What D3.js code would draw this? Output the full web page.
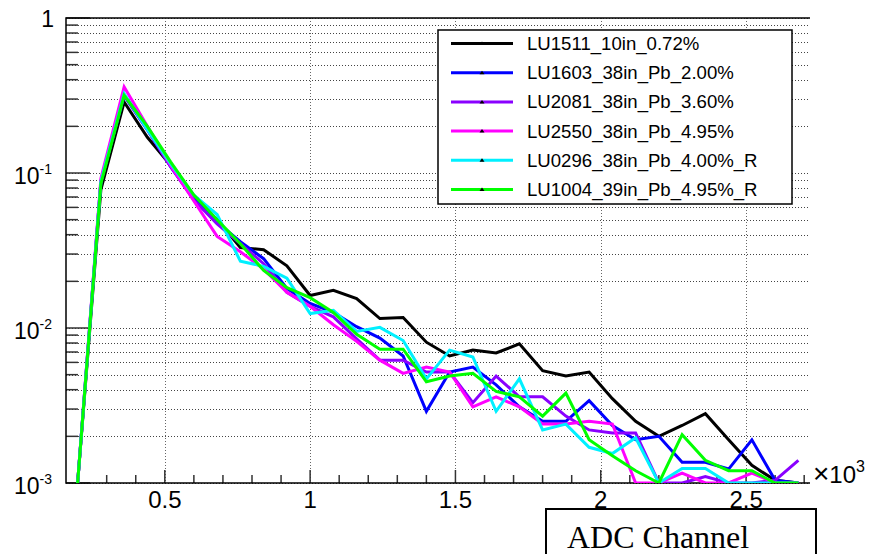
<!DOCTYPE html>
<html>
<head>
<meta charset="utf-8">
<script src="https://cdn.jsdelivr.net/npm/d3@7"></script>
<style>
  body { margin: 0; background: #fff; }
  svg { display: block; }
</style>
</head>
<body>
<div id="chart"></div>
<script>
// ADC channel (bin centres)
var channels = [200, 280, 360, 440, 520, 600, 680, 760, 840, 920, 1000, 1080, 1160, 1240, 1320, 1400,
                1480, 1560, 1640, 1720, 1800, 1880, 1960, 2040, 2120, 2200, 2280, 2360, 2440, 2520, 2600, 2680];

var seriesNames = ["LU1511_10in_0.72%", "LU1603_38in_Pb_2.00%", "LU2081_38in_Pb_3.60%",
                   "LU2550_38in_Pb_4.95%", "LU0296_38in_Pb_4.00%_R", "LU1004_39in_Pb_4.95%_R"];
var seriesColors = ["#000000", "#0000ff", "#8a00ff", "#ff00ff", "#00f0ff", "#00ff00"];

var lu1511 = [0.001, 0.078, 0.287, 0.17, 0.112, 0.068, 0.05, 0.033, 0.032, 0.0252, 0.0162, 0.0175, 0.0155, 0.0115, 0.0117, 0.0081,
              0.0066, 0.0072, 0.0069, 0.0079, 0.0053, 0.0049, 0.0052, 0.0035, 0.0025, 0.0020, 0.00235, 0.0028, 0.0019, 0.0013, 0.00104, 0.00098];
var lu1603 = [0.001, 0.088, 0.315, 0.19, 0.11, 0.068, 0.048, 0.036, 0.028, 0.018, 0.0144, 0.0126, 0.0102, 0.0086, 0.0066, 0.0029,
              0.0052, 0.0056, 0.0043, 0.0031, 0.0025, 0.0025, 0.0034, 0.00235, 0.0019, 0.0020, 0.00136, 0.00136, 0.00123, 0.0019, 0.00104, 0.001];
var lu2081 = [0.001, 0.088, 0.32, 0.19, 0.11, 0.067, 0.047, 0.035, 0.026, 0.017, 0.0138, 0.0118, 0.0085, 0.0062, 0.0062, 0.0052,
              0.0052, 0.0033, 0.0049, 0.0036, 0.0036, 0.0027, 0.0022, 0.0021, 0.0021, 0.001, 0.001, 0.0011, 0.001, 0.001, 0.00104, 0.0014];
var lu2550 = [0.001, 0.092, 0.359, 0.2, 0.112, 0.066, 0.039, 0.031, 0.024, 0.017, 0.0138, 0.0105, 0.0082, 0.0062, 0.0051, 0.0056,
              0.0052, 0.0031, 0.0036, 0.0031, 0.0024, 0.0024, 0.0025, 0.0024, 0.001, 0.001, 0.00116, 0.001, 0.001, 0.00116, 0.001, 0.001];
var lu0296 = [0.001, 0.088, 0.325, 0.19, 0.115, 0.072, 0.054, 0.027, 0.025, 0.021, 0.0124, 0.013, 0.0095, 0.0101, 0.0083, 0.0047,
              0.0072, 0.0065, 0.0029, 0.0047, 0.0022, 0.0024, 0.0017, 0.00155, 0.00196, 0.001, 0.00124, 0.00124, 0.001, 0.001, 0.001, 0.001];
var lu1004 = [0.001, 0.085, 0.317, 0.2, 0.118, 0.072, 0.05, 0.035, 0.0235, 0.0182, 0.0157, 0.0126, 0.0091, 0.0073, 0.0073, 0.0045,
              0.0049, 0.0051, 0.0039, 0.0036, 0.0027, 0.0038, 0.0019, 0.0015, 0.0012, 0.001, 0.00205, 0.0014, 0.0012, 0.0012, 0.001, 0.001];

var seriesValues = [lu1511, lu1603, lu2081, lu2550, lu0296, lu1004];

var xMajor = [500, 1000, 1500, 2000, 2500];
var xMajorLabels = ["0.5", "1", "1.5", "2", "2.5"];
var yDecades = [0.001, 0.01, 0.1, 1];
var yDecadeExp = ["-3", "-2", "-1", ""];

(function(){
	var width = 871, height = 554;
	var left = 66, right = 810, top = 18, bottom = 483;

	var x = d3.scaleLinear().domain([160, 2720]).range([left, right]);
	var y = d3.scaleLog().domain([0.001, 1]).range([bottom, top]);

	var svg = d3.select("#chart")
				.append("svg")
				.attr("width", width)
				.attr("height", height)
				.style("font-family", "'Liberation Sans', Arial, sans-serif");

	svg.append("rect").attr("width", width).attr("height", height).style("fill", "white");

	svg.append("clipPath").attr("id", "plotclip")
		.append("rect")
		.attr("x", left).attr("y", top - 2)
		.attr("width", right - left).attr("height", bottom - top + 2);

	//grid
	svg.selectAll("line.hgrid")
		.data(y.ticks())
		.enter().append("line")
		.attr("class", "hgrid")
		.attr("x1", left).attr("x2", right)
		.attr("y1", function(d){return Math.round(y(d)) + 0.5})
		.attr("y2", function(d){return Math.round(y(d)) + 0.5})
		.style("stroke", "#444")
		.style("stroke-width", 1)
		.style("stroke-dasharray", "1,2");

	svg.selectAll("line.vgrid")
		.data(xMajor)
		.enter().append("line")
		.attr("class", "vgrid")
		.attr("y1", top).attr("y2", bottom)
		.attr("x1", function(d){return Math.round(x(d)) + 0.5})
		.attr("x2", function(d){return Math.round(x(d)) + 0.5})
		.style("stroke", "#666")
		.style("stroke-width", 1)
		.style("stroke-dasharray", "1,2");

	//y ticks
	svg.selectAll("line.ytick")
		.data(y.ticks())
		.enter().append("line")
		.attr("x1", left)
		.attr("x2", function(d){return yDecades.indexOf(d) >= 0 ? left + 24 : left + 12})
		.attr("y1", function(d){return y(d)})
		.attr("y2", function(d){return y(d)})
		.style("stroke", "#333")
		.style("stroke-width", 1.5);

	//x ticks
	svg.selectAll("line.xtick")
		.data(d3.range(200, 2701, 100))
		.enter().append("line")
		.attr("x1", function(d){return x(d)})
		.attr("x2", function(d){return x(d)})
		.attr("y1", bottom)
		.attr("y2", function(d){return d % 500 === 0 ? bottom - 13 : bottom - 8})
		.style("stroke", "#333")
		.style("stroke-width", 1.5);

	//frame
	svg.append("path")
		.attr("d", "M" + right + "," + top + "H" + left + "V" + bottom + "H" + right)
		.style("fill", "none")
		.style("stroke", "black")
		.style("stroke-width", 1.5);

	//series
	var line = d3.line()
		.x(function(d, i){return x(channels[i])})
		.y(function(d){return y(Math.max(d, 0.001))});

	svg.append("g").attr("clip-path", "url(#plotclip)")
		.selectAll("path.series")
		.data(seriesValues)
		.enter().append("path")
		.attr("class", "series")
		.attr("d", line)
		.style("fill", "none")
		.style("stroke", function(d, i){return seriesColors[i]})
		.style("stroke-width", 3);

	//y labels
	yDecades.forEach(function(d, i){
		if (yDecadeExp[i] === ""){
			svg.append("text")
				.attr("x", 54).attr("y", y(d) + 9)
				.attr("text-anchor", "end")
				.style("font-size", "23px")
				.text("1");
			return;
		}
		var t = svg.append("text")
				.attr("x", 14).attr("y", y(d) + 11)
				.style("font-size", "23px");
		t.append("tspan").text("10");
		t.append("tspan")
			.attr("dy", -10)
			.style("font-size", "14px")
			.text(yDecadeExp[i]);
	});

	//x labels
	svg.selectAll("text.xlabel")
		.data(xMajor)
		.enter().append("text")
		.attr("x", function(d){return x(d)})
		.attr("y", bottom + 25)
		.attr("text-anchor", "middle")
		.style("font-size", "24px")
		.text(function(d, i){return xMajorLabels[i]});

	var mult = svg.append("text")
		.attr("x", 813).attr("y", 483)
		.style("font-size", "24px");
	mult.append("tspan").style("font-size", "28px").text("\u00d7");
	mult.append("tspan").text("10");
	mult.append("tspan").attr("dy", -11).style("font-size", "16px").text("3");

	//legend
	var lx = 438, ly = 30, lw = 354, lh = 174;
	svg.append("rect")
		.attr("x", lx).attr("y", ly)
		.attr("width", lw).attr("height", lh)
		.style("fill", "white")
		.style("stroke", "black")
		.style("stroke-width", 1.5);

	var entries = svg.selectAll("g.legenditem")
		.data(seriesNames)
		.enter().append("g")
		.attr("transform", function(d, i){return "translate(0," + (ly + 13.5 + i * 29.2) + ")"});

	entries.append("line")
		.attr("x1", 451).attr("x2", 513)
		.attr("y1", 0).attr("y2", 0)
		.style("stroke", function(d, i){return seriesColors[i]})
		.style("stroke-width", 3);

	entries.append("path")
		.attr("d", "M479.5,1.5L482,-2L484.5,1.5Z")
		.style("fill", "black");

	entries.append("text")
		.attr("x", 527).attr("y", 6.5)
		.style("font-size", "18.6px")
		.text(function(d){return d});

	//axis title box
	svg.append("rect")
		.attr("x", 546).attr("y", 509)
		.attr("width", 270).attr("height", 60)
		.style("fill", "white")
		.style("stroke", "black")
		.style("stroke-width", 2);

	svg.append("text")
		.attr("x", 567).attr("y", 548)
		.style("font-family", "'Liberation Serif', 'Times New Roman', serif")
		.style("font-size", "32px")
		.text("ADC Channel");
})();
</script>
</body>
</html>
